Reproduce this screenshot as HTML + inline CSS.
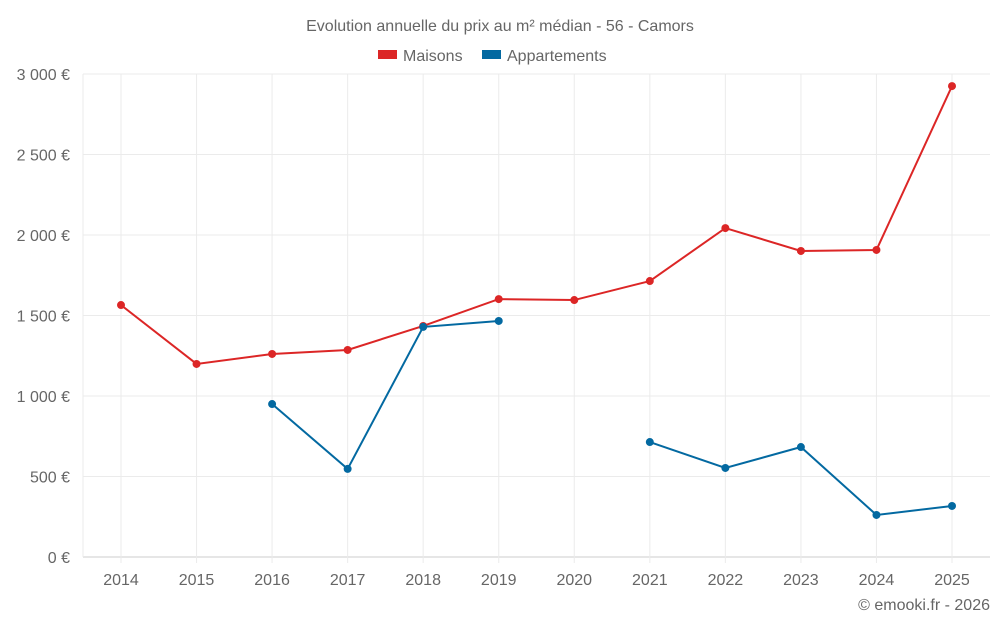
<!DOCTYPE html>
<html><head><meta charset="utf-8"><style>
body{margin:0;background:#fff;font-family:"Liberation Sans",sans-serif;}
svg text{font-family:"Liberation Sans",sans-serif;fill:#666;}
</style></head><body>
<svg id="chart" width="1000" height="625" xmlns="http://www.w3.org/2000/svg">
<text x="500" y="31" text-anchor="middle" font-size="16">Evolution annuelle du prix au m² médian - 56 - Camors</text>
<g><rect x="378" y="50" width="19" height="9" fill="#dc2626"/><text x="403" y="61" font-size="16">Maisons</text></g>
<g><rect x="482" y="50" width="19" height="9" fill="#0369a1"/><text x="507" y="61" font-size="16">Appartements</text></g>
<g id="grid"></g><g id="axes"></g><g id="series"></g>
<text x="990" y="610" text-anchor="end" font-size="16">© emooki.fr - 2026</text>
</svg>
<script>
const years=[2014,2015,2016,2017,2018,2019,2020,2021,2022,2023,2024,2025];
const maisons=[1565,1199,1261,1286,1435,1602,1596,1714,2043,1901,1907,2925];
const appartements=[null,null,950,547,1429,1466,null,714,553,683,261,317];
const yTicks=[0,500,1000,1500,2000,2500,3000];
const yTickLabels=["0 €","500 €","1 000 €","1 500 €","2 000 €","2 500 €","3 000 €"];
const L=83,R=990,T=74,B=557,yMax=3000;
const x0=121,x1=952;
function xs(i){return x0+(x1-x0)*i/(years.length-1);}
function ys(v){return B-(B-T)*v/yMax;}
const NS="http://www.w3.org/2000/svg";
function mk(t,a,p){const e=document.createElementNS(NS,t);for(const k in a)e.setAttribute(k,a[k]);p.appendChild(e);return e;}
const grid=document.getElementById('grid'),axes=document.getElementById('axes'),ser=document.getElementById('series');
yTicks.forEach((v,i)=>{
 const l=mk('line',{x1:L,x2:R,y1:ys(v),y2:ys(v),stroke:v===0?'#ccc':'#ebebeb','stroke-width':1},grid);
 
 
 const t=mk('text',{x:70,y:ys(v)+6,'text-anchor':'end','font-size':16},axes);t.textContent=yTickLabels[i];
 
 
});
const lv=mk('line',{x1:L,x2:L,y1:T,y2:B,stroke:'#ebebeb'},grid);


years.forEach((y,i)=>{
 const l=mk('line',{x1:xs(i),x2:xs(i),y1:T,y2:B+6,stroke:'#ebebeb'},grid);
 
 
 const t=mk('text',{x:xs(i),y:585,'text-anchor':'middle','font-size':16},axes);t.textContent=y;
 
 
});
function draw(data,color,name){
 let seg=[];const segs=[];
 data.forEach((v,i)=>{if(v==null){if(seg.length)segs.push(seg);seg=[];}else seg.push([xs(i),ys(v)]);});
 if(seg.length)segs.push(seg);
 segs.forEach(s=>{if(s.length>1){const p=mk('polyline',{points:s.map(q=>q.join(',')).join(' '),fill:'none',stroke:color,'stroke-width':2},ser);
 
 }});
 data.forEach((v,i)=>{if(v==null)return;const c=mk('circle',{cx:xs(i),cy:ys(v),r:4,fill:color},ser);
 
 });
}
draw(maisons,'#dc2626','maisons');
draw(appartements,'#0369a1','appartements');
</script>
</body></html>
